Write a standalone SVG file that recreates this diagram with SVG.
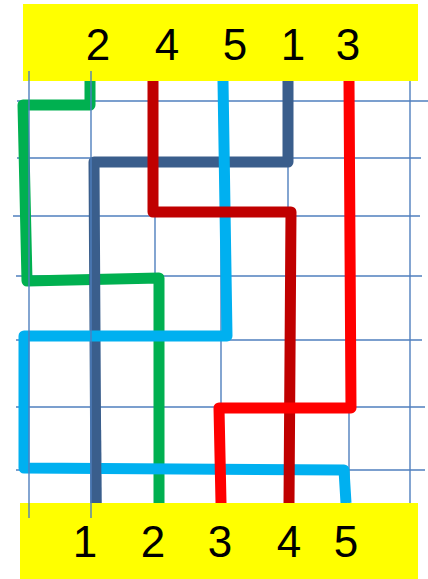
<svg xmlns="http://www.w3.org/2000/svg" width="428" height="579" viewBox="0 0 428 579">
<style>
.grid{stroke:#4f7fbe;stroke-width:1.4;fill:none}
.path{fill:none;stroke-width:11;stroke-linejoin:round;stroke-linecap:butt}
.box{fill:#ffff00}
.lbl{font-family:"Liberation Sans",Arial,sans-serif;font-size:44px;fill:#000;text-anchor:middle}
</style>
<rect width="428" height="579" fill="#ffffff"/>
<g id="grid" class="grid">
<line x1="155" y1="81" x2="155" y2="503"/>
<line x1="221" y1="81" x2="221" y2="503"/>
<line x1="288" y1="81" x2="288" y2="503"/>
<line x1="349" y1="81" x2="349" y2="503"/>
<line x1="410" y1="81" x2="410" y2="503"/>
<line x1="17" y1="101" x2="428" y2="101"/>
<line x1="17" y1="158" x2="421" y2="158"/>
<line x1="13" y1="216" x2="420" y2="216"/>
<line x1="16" y1="276" x2="422" y2="276"/>
<line x1="16" y1="340" x2="422" y2="340"/>
<line x1="16" y1="407" x2="425" y2="407"/>
<line x1="16" y1="470" x2="425" y2="470"/>
</g>
<g id="connectors">
<path id="p-green" class="path" stroke="#00b050" d="M90,81 L90,105 L23,105 L27,281 L159,278 L159,503"/>
<path id="p-navy" class="path" stroke="#3a5e8c" d="M288,81 L288,162 L94,162 L96,503"/>
<path id="p-cyan" class="path" stroke="#00b0f0" d="M223,81 L227,336 L24,336 L24,468 L344,470 L346,503"/>
<path id="p-navy-over" class="path" stroke="#3a5e8c" d="M95.6,430 L96,503"/>
<path id="p-darkred" class="path" stroke="#c00000" d="M153,81 L153,212 L291,212 L289,503"/>
<path id="p-red" class="path" stroke="#ff0000" d="M349,81 L351,408 L219,408 L221,503"/>
</g>
<g id="top-box">
<rect class="box" x="23" y="4" width="395" height="77"/>
<text class="lbl" x="98" y="60">2</text>
<text class="lbl" x="167" y="60">4</text>
<text class="lbl" x="235" y="60">5</text>
<text class="lbl" x="293" y="60">1</text>
<text class="lbl" x="348" y="60">3</text>
</g>
<g id="bottom-box">
<rect class="box" x="20" y="503" width="398" height="76"/>
<text class="lbl" x="85" y="557">1</text>
<text class="lbl" x="153" y="557">2</text>
<text class="lbl" x="220" y="557">3</text>
<text class="lbl" x="289" y="557">4</text>
<text class="lbl" x="346" y="557">5</text>
</g>
<g id="grid-front" class="grid">
<line x1="29" y1="71" x2="29" y2="518"/>
<line x1="91" y1="71" x2="91" y2="518"/>
</g>
</svg>
